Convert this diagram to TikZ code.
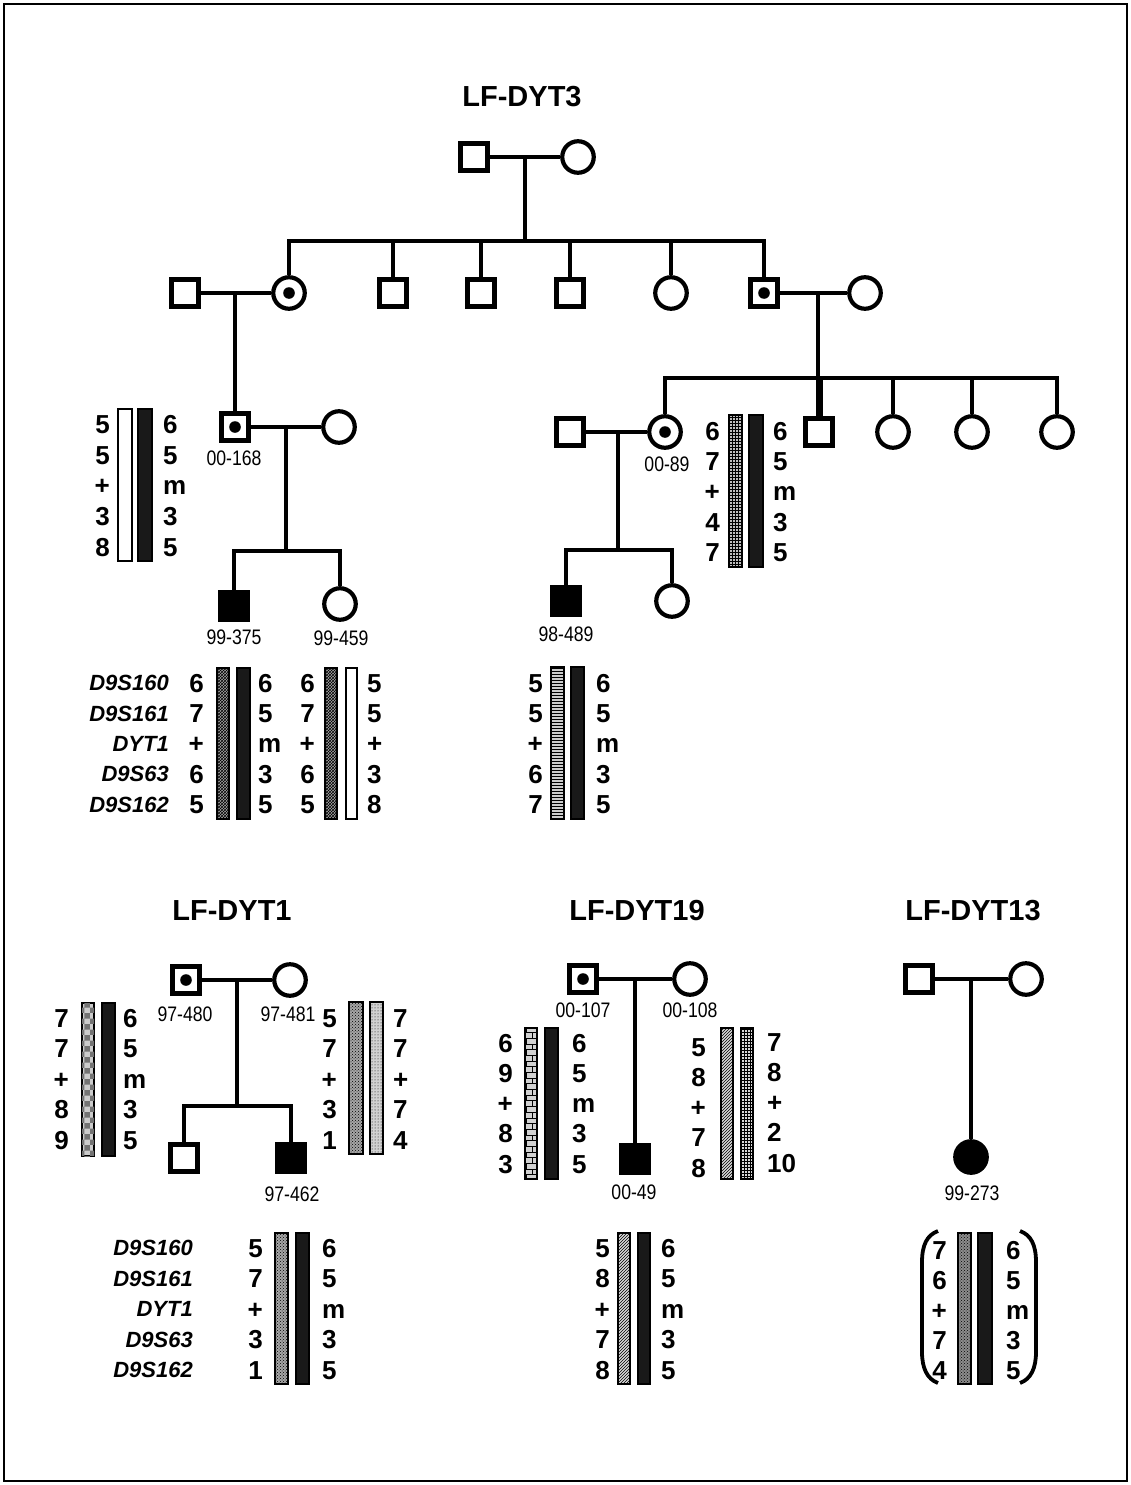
\documentclass[tikz,border=0pt]{standalone}
\usepackage{fontspec}
\setmainfont{Liberation Sans}
\newfontfamily\labfont[FakeStretch=0.84]{Liberation Sans}
\usetikzlibrary{patterns,calc}
\tikzset{
  ped/.style={line width=4pt},
  male/.style={rectangle, draw, line width=4.2pt, minimum size=27pt, inner sep=0pt, fill=white},
  female/.style={circle, draw, line width=4.2pt, minimum size=31.5pt, inner sep=0pt, fill=white},
  aff/.style={fill=black},
  num/.style={font=\fontsize{26}{26}\selectfont\bfseries, inner sep=0pt, text height=18.6pt, text depth=0pt},
  marker/.style={font=\fontsize{22}{22}\selectfont\bfseries\itshape, inner sep=0pt, text height=15.8pt, text depth=0pt, anchor=east},
  lab/.style={font=\labfont\fontsize{21}{21}\selectfont, inner sep=0pt, text height=15pt, text depth=0pt},
  ttl/.style={font=\fontsize{29}{29}\selectfont\bfseries, inner sep=0pt},
  bar/.style={draw, line width=1.3pt},
  blackbar/.style={bar, fill=black!90},
  openbar/.style={bar, fill=white},
  texbar/.style 2 args={bar, fill=black!#2, postaction={pattern=#1, pattern color=black}},
}
\newcommand\hapcol[6]{% prefix, x, y0, step, anchor, list
  \foreach \v [count=\i from 0] in {#6} {\node[num, anchor=#5] (#1\i) at (#2, #3+\i*#4) {\v};}}
\newcommand\markcol[4]{% prefix, x, y0, step
  \foreach \v [count=\i from 0] in {D9S160,D9S161,DYT1,D9S63,D9S162} {\node[marker] (#1\i) at (#2, #3+\i*#4) {\v};}}
\newcommand\carrierdot[1]{\fill (#1.center) circle (5.8pt);}
\begin{document}
\begin{tikzpicture}[x=1pt,y=-1pt]
\useasboundingbox (0,0) rectangle (1131,1485);
\draw[line width=1.2pt] (4,4) rectangle (1127,1481);

% ================= LF-DYT3 =================
\node[ttl] (t3) at (522,97) {LF-DYT3};
\node[male] (I1) at (474,157) {};
\node[female] (I2) at (578,157) {};
\draw[ped] (I1.east) -- (I2.west);
\coordinate (m1) at ($(I1.east)!0.5!(I2.west)$);
\coordinate (s1) at (526,241);
\draw[ped] (m1) -- (m1 |- s1);

\node[male] (II1) at (185,293) {};
\node[female] (II2) at (289,293) {}; \carrierdot{II2}
\node[male] (II3) at (393,293) {};
\node[male] (II4) at (481,293) {};
\node[male] (II5) at (570,293) {};
\node[female] (II6) at (671,293) {};
\node[male] (II7) at (764,293) {}; \carrierdot{II7}
\node[female] (II8) at (865,293) {};
\draw[ped] (II2.north) -- (II2.north |- s1) -- (II7.north |- s1) -- (II7.north);
\foreach \n in {II3,II4,II5,II6} \draw[ped] (\n.north) -- (\n.north |- s1);
\draw[ped] (II1.east) -- (II2.west);
\draw[ped] (II7.east) -- (II8.west);

% generation III
\node[male] (III1) at (235,427) {}; \carrierdot{III1}
\node[female] (III2) at (339,427) {};
\node[male] (IIIs) at (570,432) {};
\node[female] (III3) at (665,432) {}; \carrierdot{III3}
\node[male] (III4) at (819,432) {};
\node[female] (III5) at (893,432) {};
\node[female] (III6) at (972,432) {};
\node[female] (III7) at (1057,432) {};
\coordinate (m2) at (235,293);
\draw[ped] (m2) -- (III1.north);
\coordinate (m3) at (818,293);
\coordinate (s2) at (818,378);
\draw[ped] (m3) -- (s2);
\draw[ped] (III3.north) -- (III3.north |- s2) -- (III7.north |- s2) -- (III7.north);
\foreach \n in {III5,III6} \draw[ped] (\n.north) -- (\n.north |- s2);
\draw[line width=7pt] (III4.north) -- (III4.north |- s2);
\draw[ped] (III1.east) -- (III2.west);
\draw[ped] (IIIs.east) -- (III3.west);
\node[lab] (l168) at (234,458) {00-168};
\node[lab] (l89) at (667,464) {00-89};

% generation IV
\node[male, aff] (IV1) at (234,606) {};
\node[female] (IV2) at (340,604) {};
\node[male, aff] (IV3) at (566,601) {};
\node[female] (IV4) at (672,601) {};
\coordinate (m4) at ($(III1.east)!0.5!(III2.west)$);
\coordinate (s3) at (288,551);
\draw[ped] (m4) -- (m4 |- s3);
\draw[ped] (IV1.north) -- (IV1.north |- s3) -- (IV2.north |- s3) -- (IV2.north);
\coordinate (m5) at (618,432);
\coordinate (s4) at (618,550);
\draw[ped] (m5) -- (s4);
\draw[ped] (IV3.north) -- (IV3.north |- s4) -- (IV4.north |- s4) -- (IV4.north);
\node[lab] (l375) at (234,637) {99-375};
\node[lab] (l459) at (341,638) {99-459};
\node[lab] (l489) at (566,634) {98-489};

% haplotypes of LF-DYT3
\hapcol{ha}{110}{424}{30.7}{east}{5,5,+,3,8}
\draw[openbar] (118,409) rectangle (132,561);
\draw[blackbar] (138,409) rectangle (152,561);
\hapcol{hb}{163}{424}{30.7}{west}{6,5,m,3,5}

\hapcol{hc}{720}{431}{30.3}{east}{6,7,+,4,7}
\draw[texbar={grid}{25}] (729,415) rectangle (742,567);
\draw[blackbar] (749,415) rectangle (763,567);
\hapcol{hd}{773}{431}{30.3}{west}{6,5,m,3,5}

\markcol{mk1}{169}{683}{30.3}
\hapcol{he}{204}{683}{30.3}{east}{6,7,+,6,5}
\draw[texbar={crosshatch}{35}] (217,668) rectangle (229,819);
\draw[blackbar] (237,668) rectangle (250,819);
\hapcol{hf}{258}{683}{30.3}{west}{6,5,m,3,5}
\hapcol{hg}{315}{683}{30.3}{east}{6,7,+,6,5}
\draw[texbar={crosshatch}{35}] (325,668) rectangle (337,819);
\draw[openbar] (346,668) rectangle (357,819);
\hapcol{hh}{367}{683}{30.3}{west}{5,5,+,3,8}

\hapcol{hi}{543}{683}{30.3}{east}{5,5,+,6,7}
\draw[texbar={horizontal lines}{20}] (551,667) rectangle (564,819);
\draw[blackbar] (571,667) rectangle (584,819);
\hapcol{hj}{596}{683}{30.3}{west}{6,5,m,3,5}

% ================= LF-DYT1 =================
\node[ttl] (t1) at (232,911) {LF-DYT1};
\node[male] (A1) at (186,980) {}; \carrierdot{A1}
\node[female] (A2) at (290,980) {};
\draw[ped] (A1.east) -- (A2.west);
\coordinate (mA) at ($(A1.east)!0.5!(A2.west)$);
\coordinate (sA) at (237,1106);
\node[male] (A3) at (184,1158) {};
\node[male, aff] (A4) at (291,1158) {};
\draw[ped] (mA) -- (mA |- sA);
\draw[ped] (A3.north) -- (A3.north |- sA) -- (A4.north |- sA) -- (A4.north);
\node[lab] (l480) at (185,1014) {97-480};
\node[lab] (l481) at (288,1014) {97-481};
\node[lab] (l462) at (292,1194) {97-462};

\hapcol{ka}{69}{1018}{30.5}{east}{7,7,+,8,9}
\draw[bar, fill=black!20, postaction={pattern=checkerboard, pattern color=black!55}] (82,1003) rectangle (94,1156);
\draw[blackbar] (102,1003) rectangle (115,1156);
\hapcol{kb}{123}{1018}{30.5}{west}{6,5,m,3,5}

\hapcol{kc}{337}{1018}{30.5}{east}{5,7,+,3,1}
\draw[texbar={crosshatch dots}{35}] (349,1002) rectangle (363,1154);
\draw[texbar={dots}{18}] (370,1002) rectangle (383,1154);
\hapcol{kd}{393}{1018}{30.5}{west}{7,7,+,7,4}

\markcol{mk2}{193}{1248}{30.5}
\hapcol{ke}{263}{1248}{30.5}{east}{5,7,+,3,1}
\draw[texbar={crosshatch dots}{35}] (275,1233) rectangle (288,1384);
\draw[blackbar] (296,1233) rectangle (309,1384);
\hapcol{kf}{322}{1248}{30.5}{west}{6,5,m,3,5}

% ================= LF-DYT19 =================
\node[ttl] (t19) at (637,911) {LF-DYT19};
\node[male] (B1) at (583,979) {}; \carrierdot{B1}
\node[female] (B2) at (690,979) {};
\draw[ped] (B1.east) -- (B2.west);
\coordinate (mB) at ($(B1.east)!0.5!(B2.west)$);
\node[male, aff] (B3) at (635,1159) {};
\draw[ped] (mB) -- (mB |- B3.north);
\node[lab] (l107) at (583,1010) {00-107};
\node[lab] (l108) at (690,1010) {00-108};
\node[lab] (l49) at (634,1192) {00-49};

\hapcol{na}{513}{1043}{30.2}{east}{6,9,+,8,3}
\draw[texbar={bricks}{18}] (525,1028) rectangle (537,1179);
\draw[blackbar] (545,1028) rectangle (558,1179);
\hapcol{nb}{572}{1043}{30.2}{west}{6,5,m,3,5}

\hapcol{nc}{706}{1047}{30.2}{east}{5,8,+,7,8}
\draw[texbar={north east lines}{15}] (721,1028) rectangle (733,1179);
\draw[texbar={grid}{15}] (741,1028) rectangle (753,1179);
\hapcol{nd}{767}{1042}{30.2}{west}{7,8,+,2,10}

\hapcol{ne}{610}{1248}{30.5}{east}{5,8,+,7,8}
\draw[texbar={north east lines}{15}] (618,1233) rectangle (630,1384);
\draw[blackbar] (638,1233) rectangle (650,1384);
\hapcol{nf}{661}{1248}{30.5}{west}{6,5,m,3,5}

% ================= LF-DYT13 =================
\node[ttl] (t13) at (973,911) {LF-DYT13};
\node[male] (C1) at (919,979) {};
\node[female] (C2) at (1026,979) {};
\draw[ped] (C1.east) -- (C2.west);
\coordinate (mC) at (971,979);
\node[female, aff] (C3) at (971,1157) {};
\draw[ped] (mC) -- (C3.north);
\node[lab] (l273) at (972,1193) {99-273};

\hapcol{pa}{947}{1250}{30}{east}{7,6,+,7,4}
\draw[texbar={crosshatch dots}{45}] (958,1233) rectangle (971,1384);
\draw[blackbar] (978,1233) rectangle (992,1384);
\hapcol{pb}{1006}{1250}{30}{west}{6,5,m,3,5}
\draw[line width=3.8pt] (938,1231) .. controls (927,1235) and (922,1245) .. (922,1262) -- (922,1352) .. controls (922,1368) and (927,1379) .. (938,1383);
\draw[line width=3.8pt] (1020,1231) .. controls (1031,1235) and (1036,1245) .. (1036,1262) -- (1036,1352) .. controls (1036,1368) and (1031,1379) .. (1020,1383);
\end{tikzpicture}
\end{document}
